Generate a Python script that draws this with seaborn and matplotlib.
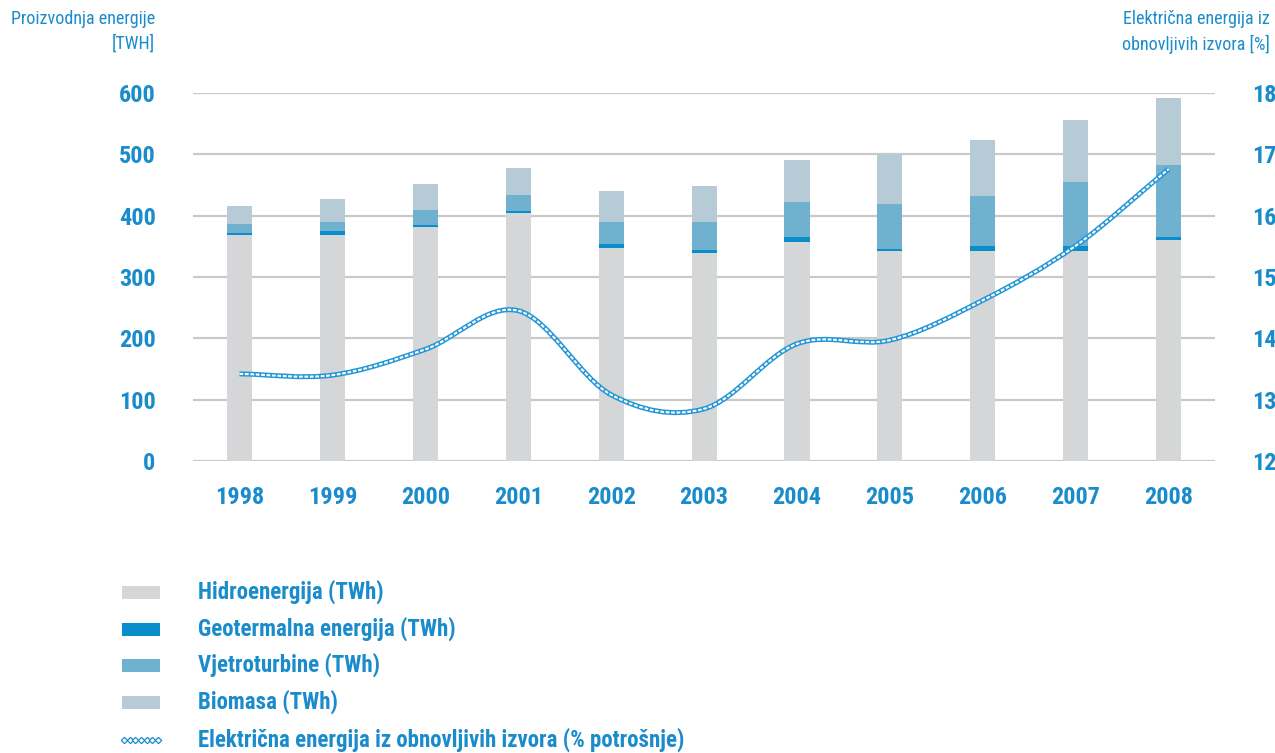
import numpy as np
import pandas as pd
import seaborn as sns
import matplotlib.pyplot as plt
from matplotlib import font_manager
from matplotlib.path import Path
from matplotlib.patches import PathPatch, Rectangle
from matplotlib.lines import Line2D

# Podaci očitani s grafikona
godine = ['1998', '1999', '2000', '2001', '2002', '2003', '2004', '2005', '2006', '2007', '2008']
hidro = [368, 368, 381, 404, 347, 339, 357, 342, 342, 342, 360]
geotermalna = [4, 7, 4, 4, 7, 5, 8, 3, 9, 9, 5]
vjetar = [14, 15, 24, 26, 36, 46, 57, 74, 81, 104, 118]
biomasa = [30, 37, 43, 44, 50, 58, 68, 81, 91, 101, 109]
udio_obnovljivih = [13.42, 13.40, 13.82, 14.45, 13.08, 12.85, 13.91, 13.97, 14.62, 15.51, 16.76]

nazivi = ['Hidroenergija (TWh)', 'Geotermalna energija (TWh)', 'Vjetroturbine (TWh)',
          'Biomasa (TWh)', 'Električna energija iz obnovljivih izvora (% potrošnje)']

PLAVA = '#1a8ccb'
boje = ['#d5d6d8', '#0a8dcb', '#70b1cf', '#b6cbd6']

sns.set_style('white')

# uski font ako postoji
fontovi = font_manager.fontManager.ttflist
imena = {f.name for f in fontovi}
FONT = 'DejaVu Sans'
STRETCH = 'normal'
for kandidat in ['Roboto Condensed', 'Liberation Sans Narrow', 'Open Sans Condensed',
                 'Noto Sans Condensed', 'DejaVu Sans Condensed']:
    if kandidat in imena:
        FONT = kandidat
        break
else:
    if any(f.name == 'DejaVu Sans' and str(f.stretch) in ('condensed', '75', 'semi-condensed')
           for f in fontovi):
        STRETCH = 'condensed'
plt.rcParams['font.family'] = [FONT, 'DejaVu Sans']
plt.rcParams['font.stretch'] = STRETCH

df = pd.DataFrame({'godina': godine, 'hidro': hidro, 'geo': geotermalna,
                   'vjetar': vjetar, 'biomasa': biomasa})
df['s1'] = df['hidro']
df['s2'] = df['s1'] + df['geo']
df['s3'] = df['s2'] + df['vjetar']
df['s4'] = df['s3'] + df['biomasa']

fig = plt.figure(figsize=(12.75, 7.53), dpi=100)
ax = fig.add_axes([0.1514, 0.3878, 0.8016, 0.4887])

# stupci jedan preko drugog (od ukupnog prema dolje)
for stupac, boja in zip(['s4', 's3', 's2', 's1'], boje[::-1]):
    sns.barplot(data=df, x='godina', y=stupac, color=boja, saturation=1,
                width=0.27, errorbar=None, ax=ax, linewidth=0, zorder=3)

ax.set_xlim(-0.5, 10.5)
ax.set_ylim(0, 600)
ax.set_yticks(range(0, 601, 100))
ax.yaxis.grid(True, color='#c9c9c9', linewidth=1.6, zorder=0)
ax.set_axisbelow(True)
for s in ax.spines.values():
    s.set_visible(False)
ax.set_xlabel('')
ax.set_ylabel('')
ax.tick_params(axis='y', length=0, pad=27, labelsize=17.5, labelcolor=PLAVA)
ax.tick_params(axis='x', length=0, pad=18, labelsize=17.5, labelcolor=PLAVA)
for t in ax.get_xticklabels() + ax.get_yticklabels():
    t.set_fontweight('bold')

# desna os - udio obnovljivih izvora
ax2 = ax.twinx()
ax2.set_ylim(12, 18)
ax2.set_yticks(range(12, 19))
for s in ax2.spines.values():
    s.set_visible(False)
ax2.tick_params(axis='y', length=0, pad=27, labelsize=17.5, labelcolor=PLAVA)
for t in ax2.get_yticklabels():
    t.set_fontweight('bold')

# zaglađena linija (Bezier kroz točke)
x = np.arange(len(udio_obnovljivih))
y = np.array(udio_obnovljivih)
n = len(y)
nagib = np.zeros(n)
nagib[0] = y[1] - y[0]
nagib[-1] = y[-1] - y[-2]
nagib[1:-1] = (y[2:] - y[:-2]) / 2
verts = [(x[0], y[0])]
codes = [Path.MOVETO]
for i in range(n - 1):
    verts += [(x[i] + 1 / 3, y[i] + nagib[i] / 3),
              (x[i + 1] - 1 / 3, y[i + 1] - nagib[i + 1] / 3),
              (x[i + 1], y[i + 1])]
    codes += [Path.CURVE4] * 3
put = Path(verts, codes)
ax2.add_patch(PathPatch(put, facecolor='none', edgecolor='#2196d6', lw=3.6,
                        transform=ax2.transData, zorder=5, capstyle='butt'))
ax2.add_patch(PathPatch(put, facecolor='none', edgecolor='white', lw=1.5,
                        linestyle=(0, (1.8, 0.8)), transform=ax2.transData, zorder=6,
                        capstyle='butt'))

# naslovi osi
fig.text(155 / 1275, 1 - 10 / 753, 'Proizvodnja energije\n[TWH]', ha='right', va='top',
         color=PLAVA, fontsize=13, linespacing=1.45)
fig.text(1270 / 1275, 1 - 10 / 753, 'Električna energija iz\nobnovljivih izvora [%]',
         ha='right', va='top', color=PLAVA, fontsize=13, linespacing=1.45)

# legenda
redovi = [592, 629, 665, 702, 740]
for i, (naziv, yy) in enumerate(zip(nazivi, redovi)):
    yf = 1 - yy / 753
    if i < 4:
        fig.patches.append(Rectangle((122 / 1275, yf - 6.5 / 753), 38 / 1275, 13 / 753,
                                     transform=fig.transFigure, facecolor=boje[i],
                                     edgecolor='none'))
    else:
        fig.lines.append(Line2D(np.linspace(124, 158, 7) / 1275, [yf] * 7,
                                transform=fig.transFigure, color=PLAVA, lw=0.8,
                                marker='D', markersize=3.2, markerfacecolor='white',
                                markeredgecolor=PLAVA, markeredgewidth=0.9))
    fig.text(198 / 1275, yf, naziv, ha='left', va='center', color=PLAVA,
             fontsize=16.5, fontweight='bold')

fig.savefig('out.png', dpi=100)
